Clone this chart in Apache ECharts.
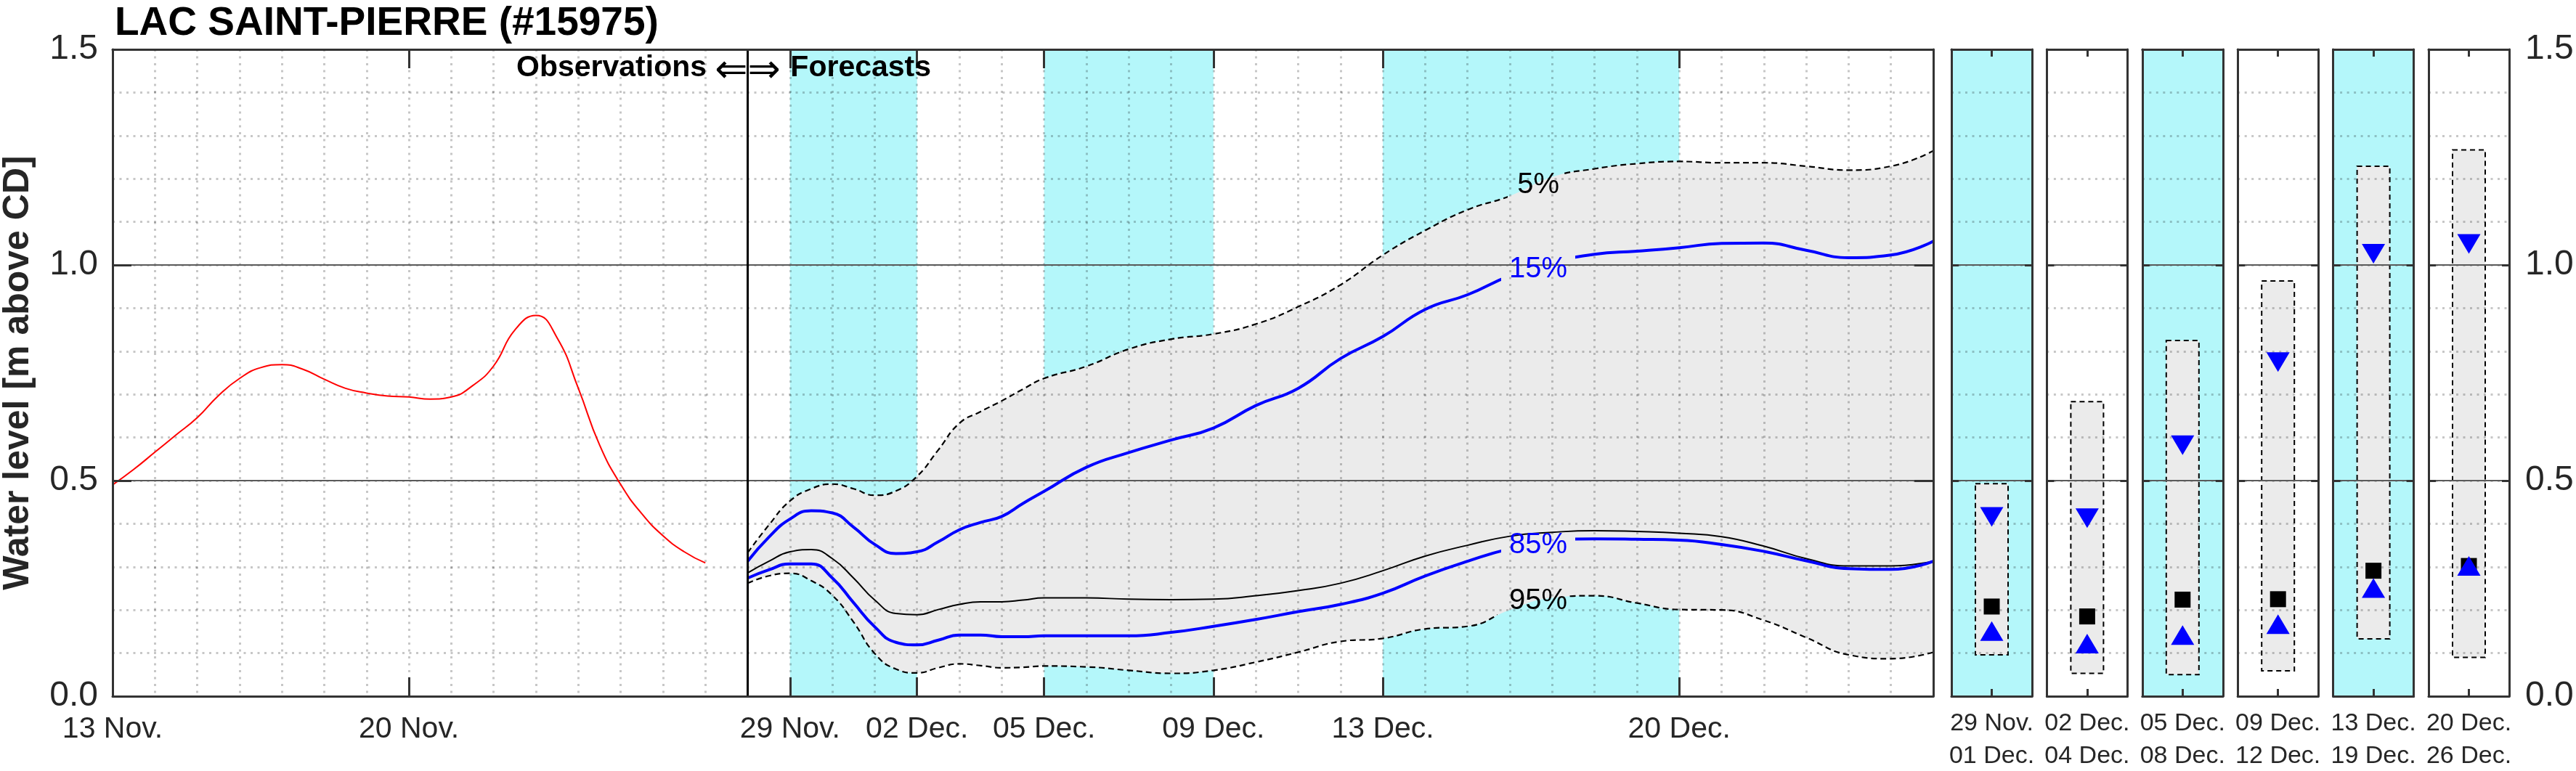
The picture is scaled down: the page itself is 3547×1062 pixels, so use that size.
<!DOCTYPE html>
<html><head><meta charset="utf-8">
<script src="https://cdn.jsdelivr.net/npm/echarts@6/dist/echarts.min.js"></script>
<style>html,body{margin:0;padding:0;background:#fff}#c{width:3547px;height:1062px}</style>
</head><body><div id="c"></div>
<script>
// ---------------- DATA ----------------
const titleText = 'LAC SAINT-PIERRE (#15975)';
const yName = 'Water level [m above CD]';
const dayMax = 43; // days after 13 Nov.
const tickDays = [0, 7, 16, 19, 22, 26, 30, 37];
const tickLabels = ['13 Nov.', '20 Nov.', '29 Nov.', '02 Dec.', '05 Dec.', '09 Dec.', '13 Dec.', '20 Dec.'];

const obsDays = [0,0.5,1,1.5,2,2.5,3,3.5,4,4.5,5,5.5,6,6.5,7,7.5,8,8.5,9,9.5,10,10.5,11,11.5,12,12.5,13,13.5,14];
const obsLevel = [0.490,0.526,0.566,0.606,0.646,0.697,0.737,0.762,0.769,0.758,0.735,0.714,0.703,0.696,0.694,0.689,0.694,0.720,0.766,0.849,0.883,0.831,0.714,0.583,0.491,0.423,0.372,0.335,0.309];

const fcDays = [15,15.5,16,16.5,17,17.5,18,18.5,19,19.5,20,20.5,21,21.5,22,23,24,25,26,27,28,29,30,31,32,33,34,35,36,37,38,39,40,41,42,43];
const p05 = [0.333,0.397,0.453,0.481,0.492,0.481,0.466,0.476,0.510,0.571,0.633,0.660,0.685,0.712,0.737,0.765,0.805,0.828,0.840,0.863,0.903,0.954,1.023,1.080,1.128,1.160,1.204,1.223,1.235,1.240,1.237,1.237,1.229,1.220,1.229,1.265];
const p15 = [0.313,0.369,0.411,0.430,0.425,0.392,0.352,0.331,0.335,0.358,0.386,0.403,0.417,0.447,0.475,0.531,0.565,0.594,0.622,0.674,0.714,0.783,0.834,0.897,0.931,0.975,1.005,1.025,1.032,1.040,1.050,1.051,1.034,1.017,1.023,1.055];
const p50 = [0.286,0.313,0.335,0.340,0.319,0.274,0.223,0.192,0.189,0.201,0.213,0.219,0.219,0.223,0.228,0.228,0.225,0.224,0.225,0.233,0.245,0.262,0.291,0.325,0.350,0.371,0.380,0.384,0.382,0.378,0.370,0.348,0.319,0.302,0.302,0.313];
const p85 = [0.274,0.293,0.307,0.307,0.274,0.217,0.161,0.125,0.119,0.130,0.142,0.142,0.138,0.138,0.140,0.140,0.140,0.148,0.162,0.178,0.196,0.213,0.239,0.279,0.313,0.342,0.360,0.365,0.364,0.362,0.352,0.336,0.314,0.296,0.294,0.313];
const p95 = [0.262,0.279,0.285,0.268,0.234,0.172,0.099,0.063,0.054,0.066,0.075,0.071,0.066,0.067,0.070,0.068,0.060,0.053,0.060,0.079,0.102,0.127,0.134,0.156,0.162,0.200,0.228,0.233,0.216,0.201,0.200,0.176,0.136,0.096,0.087,0.102];

const dividerDay = 15;
const bandStart = [16, 22, 30];
const bandEnd = [19, 26, 37];

const pctNames = ['5%', '15%', '85%', '95%'];
const pctLabelDay = [33.67, 33.67, 33.67, 33.67];
const pctLabelVal = [1.185, 0.990, 0.351, 0.221];
const pctGapStart = [32.95, 32.79, 32.79, 32.71];
const pctGapEnd = [34.25, 34.55, 34.55, 34.40];

const noteObs = 'Observations';
const noteArrow = '\u21D0\u21D2';
const noteFc = 'Forecasts';
const noteVal = 1.456;

const periodStart = ['29 Nov.', '02 Dec.', '05 Dec.', '09 Dec.', '13 Dec.', '20 Dec.'];
const periodEnd = ['01 Dec.', '04 Dec.', '08 Dec.', '12 Dec.', '19 Dec.', '26 Dec.'];
const periodShaded = [true, false, true, false, true, false];
const boxHigh = [0.493, 0.683, 0.825, 0.963, 1.229, 1.267];
const boxLow = [0.096, 0.053, 0.050, 0.059, 0.133, 0.090];
const period15 = [0.416, 0.413, 0.582, 0.775, 1.026, 1.049];
const period50 = [0.208, 0.185, 0.224, 0.225, 0.291, 0.302];
const period85 = [0.151, 0.122, 0.142, 0.167, 0.251, 0.302];

// ---------------- STYLE ----------------
const FONT = "'Liberation Sans', Arial, Helvetica, sans-serif";
const CYAN = '#b4f7fa';
const BANDGRAY = '#ebebeb';
const BLUE = '#0000ff';
const TXT = '#262626';
const DOT = {color: 'rgba(0,0,0,0.22)', width: 3, type: [3, 6.5]};
const FRAME = {color: '#333333', width: 3};
const SOLID = {color: '#5a5a5a', width: 2};

// same bezier smoothing rule as the line series (smooth = 0.5)
function smoothSegments(pts, smooth) {
  const segs = [];
  const n = pts.length;
  let cpx0 = pts[0][0], cpy0 = pts[0][1], prevX = pts[0][0], prevY = pts[0][1];
  for (let i = 1; i < n; i++) {
    const x = pts[i][0], y = pts[i][1];
    let cpx1, cpy1, nextCpx0 = x, nextCpy0 = y;
    if (i === n - 1) { cpx1 = x; cpy1 = y; }
    else {
      const nextX = pts[i + 1][0], nextY = pts[i + 1][1];
      let vx = nextX - prevX, vy = nextY - prevY;
      const lenPrev = Math.hypot(x - prevX, y - prevY), lenNext = Math.hypot(nextX - x, nextY - y);
      const ratio = lenNext / (lenNext + lenPrev);
      nextCpx0 = x + vx * smooth * ratio; nextCpy0 = y + vy * smooth * ratio;
      nextCpx0 = Math.max(Math.min(nextCpx0, Math.max(nextX, x)), Math.min(nextX, x));
      nextCpy0 = Math.max(Math.min(nextCpy0, Math.max(nextY, y)), Math.min(nextY, y));
      vx = nextCpx0 - x; vy = nextCpy0 - y;
      cpx1 = x - vx * lenPrev / lenNext; cpy1 = y - vy * lenPrev / lenNext;
      cpx1 = Math.max(Math.min(cpx1, Math.max(prevX, x)), Math.min(prevX, x));
      cpy1 = Math.max(Math.min(cpy1, Math.max(prevY, y)), Math.min(prevY, y));
      vx = x - cpx1; vy = y - cpy1;
      nextCpx0 = x + vx * lenNext / lenPrev; nextCpy0 = y + vy * lenNext / lenPrev;
    }
    segs.push([cpx0, cpy0, cpx1, cpy1, x, y]);
    cpx0 = nextCpx0; cpy0 = nextCpy0; prevX = x; prevY = y;
  }
  return segs;
}

const grids = [], xAxes = [], yAxes = [], series = [], visualMaps = [];

// ---------------- MAIN PANEL ----------------
grids.push({left: 155, top: 68, width: 2507, height: 891, show: false, containLabel: false, outerBoundsMode: 'none'});
xAxes.push({gridIndex: 0, type: 'value', min: 0, max: dayMax, interval: 1, position: 'bottom',
  axisLine: {show: false, onZero: false}, axisTick: {show: false}, axisLabel: {show: false},
  splitLine: {show: true, lineStyle: DOT}, z: 3});
xAxes.push({gridIndex: 0, type: 'value', min: 0, max: dayMax, position: 'bottom',
  axisLine: {show: true, onZero: false, lineStyle: FRAME},
  axisTick: {show: true, inside: true, length: 26, lineStyle: FRAME, customValues: tickDays},
  axisLabel: {show: true, customValues: tickDays, formatter: v => tickLabels[tickDays.indexOf(v)] || '',
    fontSize: 41, lineHeight: 41, fontFamily: FONT, color: TXT, margin: 25},
  splitLine: {show: false}, z: 7});
xAxes.push({gridIndex: 0, type: 'value', min: 0, max: dayMax, position: 'top',
  axisLine: {show: true, onZero: false, lineStyle: FRAME},
  axisTick: {show: true, inside: true, length: 26, lineStyle: FRAME, customValues: tickDays},
  axisLabel: {show: false}, splitLine: {show: false}, z: 7});

yAxes.push({gridIndex: 0, type: 'value', min: 0, max: 1.5, interval: 0.1, position: 'left',
  axisLine: {show: false, onZero: false}, axisTick: {show: false}, axisLabel: {show: false},
  splitLine: {show: true, lineStyle: DOT}, z: 3});
yAxes.push({gridIndex: 0, type: 'value', min: 0, max: 1.5, interval: 0.5, position: 'left',
  axisLine: {show: false, onZero: false}, axisTick: {show: false}, axisLabel: {show: false},
  splitLine: {show: true, lineStyle: SOLID}, z: 4});
yAxes.push({gridIndex: 0, type: 'value', min: 0, max: 1.5, interval: 0.5, position: 'left',
  axisLine: {show: true, onZero: false, lineStyle: FRAME},
  axisTick: {show: true, inside: true, length: 26, lineStyle: FRAME},
  axisLabel: {show: true, formatter: v => v.toFixed(1), fontSize: 48, fontFamily: FONT, color: TXT, margin: 20},
  splitLine: {show: false},
  name: yName, nameLocation: 'middle', nameRotate: 90, nameGap: 105,
  nameTextStyle: {fontSize: 50, lineHeight: 50, fontWeight: 'bold', fontFamily: FONT, color: TXT}, z: 7});
yAxes.push({gridIndex: 0, type: 'value', min: 0, max: 1.5, interval: 0.5, position: 'right',
  axisLine: {show: true, onZero: false, lineStyle: FRAME},
  axisTick: {show: true, inside: true, length: 26, lineStyle: FRAME},
  axisLabel: {show: false}, splitLine: {show: false}, z: 7});

// cyan day bands
series.push({type: 'custom', xAxisIndex: 0, yAxisIndex: 0, z: 1, silent: true,
  data: bandStart.map((s, i) => [s, bandEnd[i]]),
  renderItem: (params, api) => {
    const a = api.coord([api.value(0), 1.5]);
    const b = api.coord([api.value(1), 0]);
    return {type: 'rect', shape: {x: a[0], y: a[1], width: b[0] - a[0], height: b[1] - a[1]}, style: {fill: CYAN}};
  }});
// gray envelope between 5% and 95%
series.push({type: 'custom', xAxisIndex: 0, yAxisIndex: 0, z: 2, silent: true,
  data: [[fcDays[0]]],
  renderItem: (params, api) => {
    const up = fcDays.map((d, i) => api.coord([d, p05[i]]));
    const lo = fcDays.map((d, i) => api.coord([d, p95[i]]));
    const su = smoothSegments(up, 0.5), sl = smoothSegments(lo, 0.5);
    let d = 'M' + up[0][0] + ',' + up[0][1];
    su.forEach(s => { d += 'C' + s.join(','); });
    d += 'L' + lo[lo.length - 1][0] + ',' + lo[lo.length - 1][1];
    for (let j = sl.length - 1; j >= 0; j--) {
      const s = sl[j];
      d += 'C' + [s[2], s[3], s[0], s[1], lo[j][0], lo[j][1]].join(',');
    }
    d += 'Z';
    return {type: 'path', shape: {pathData: d}, style: {fill: BANDGRAY, stroke: null}};
  }});

// observations
series.push({type: 'line', xAxisIndex: 0, yAxisIndex: 0, z: 5, smooth: true, symbol: 'none',
  lineStyle: {color: '#ff0000', width: 2}, data: obsDays.map((d, i) => [d, obsLevel[i]])});
// median
series.push({type: 'line', xAxisIndex: 0, yAxisIndex: 0, z: 5, smooth: true, symbol: 'none',
  lineStyle: {color: '#000000', width: 2}, data: fcDays.map((d, i) => [d, p50[i]])});

// percentile lines with label gaps
const pctArrays = [p05, p15, p85, p95];
const pctColors = ['#000000', BLUE, BLUE, '#000000'];
const pctWidths = [2.2, 4, 4, 2.2];
const pctTypes = [[8, 5], 'solid', 'solid', [8, 5]];
pctArrays.forEach((arr, k) => {
  const idx = series.length;
  series.push({type: 'line', xAxisIndex: 0, yAxisIndex: 0, z: 5, smooth: true, symbol: 'none',
    color: pctColors[k],
    lineStyle: {width: pctWidths[k], type: pctTypes[k]},
    data: fcDays.map((d, i) => [d, arr[i]])});
  visualMaps.push({type: 'piecewise', show: false, seriesIndex: idx, dimension: 0,
    pieces: [{lt: pctGapStart[k], color: pctColors[k]},
             {gte: pctGapStart[k], lte: pctGapEnd[k], color: 'rgba(255,255,255,0)'},
             {gt: pctGapEnd[k], color: pctColors[k]}]});
});
// percentile labels
series.push({type: 'scatter', xAxisIndex: 0, yAxisIndex: 0, z: 6, silent: true, symbolSize: 1,
  itemStyle: {color: 'rgba(0,0,0,0)', opacity: 1},
  data: pctNames.map((n, k) => ({value: [pctLabelDay[k], pctLabelVal[k]], name: n,
    label: {show: true, position: 'inside', formatter: n, color: pctColors[k], fontSize: 40, fontFamily: FONT}}))});

// divider
series.push({type: 'custom', xAxisIndex: 0, yAxisIndex: 0, z: 6, silent: true, data: [[dividerDay]],
  renderItem: (params, api) => {
    const a = api.coord([api.value(0), 1.5]);
    const b = api.coord([api.value(0), 0]);
    return {type: 'line', shape: {x1: a[0], y1: a[1], x2: b[0], y2: b[1]}, style: {stroke: '#000', lineWidth: 3}};
  }});
// Observations <=> Forecasts note
series.push({type: 'scatter', xAxisIndex: 0, yAxisIndex: 0, z: 8, silent: true, symbolSize: 1,
  itemStyle: {color: 'rgba(0,0,0,0)', opacity: 1},
  data: [
    {value: [dividerDay, noteVal], label: {show: true, position: 'left', distance: 56, formatter: noteObs,
      fontSize: 41, fontWeight: 'bold', fontFamily: FONT, color: '#000'}},
    {value: [dividerDay, noteVal - 0.008], label: {show: true, position: 'inside', formatter: noteArrow,
      fontSize: 54, fontFamily: "'DejaVu Sans', sans-serif", color: '#000'}},
    {value: [tickDays[2], noteVal], label: {show: true, position: 'right', distance: 0, formatter: noteFc,
      fontSize: 41, fontWeight: 'bold', fontFamily: FONT, color: '#000'}}
  ]});

// ---------------- SMALL PANELS ----------------
const SM_LEFT0 = 2687, SM_STEP = 131.4, SM_W = 111;
periodStart.forEach((ps, k) => {
  const g = grids.length;
  grids.push({left: SM_LEFT0 + k * SM_STEP, top: 68, width: SM_W, height: 891, containLabel: false, outerBoundsMode: 'none',
    show: periodShaded[k], backgroundColor: periodShaded[k] ? CYAN : 'transparent', borderWidth: 0});
  const cat = [ps + '\n' + periodEnd[k]];
  const xb = xAxes.length;
  xAxes.push({gridIndex: g, type: 'category', data: cat, position: 'bottom', boundaryGap: true,
    axisLine: {show: true, onZero: false, lineStyle: FRAME},
    axisTick: {show: true, inside: true, length: 10, alignWithLabel: true, lineStyle: FRAME},
    axisLabel: {show: true, fontSize: 34, lineHeight: 45, fontFamily: FONT, color: TXT, margin: 15},
    splitLine: {show: false}, z: 7});
  xAxes.push({gridIndex: g, type: 'category', data: cat, position: 'top', boundaryGap: true,
    axisLine: {show: true, onZero: false, lineStyle: FRAME},
    axisTick: {show: true, inside: true, length: 10, alignWithLabel: true, lineStyle: FRAME},
    axisLabel: {show: false}, splitLine: {show: false}, z: 7});
  const yd = yAxes.length;
  yAxes.push({gridIndex: g, type: 'value', min: 0, max: 1.5, interval: 0.1, position: 'left',
    axisLine: {show: false, onZero: false}, axisTick: {show: false}, axisLabel: {show: false},
    splitLine: {show: true, lineStyle: DOT}, z: 3});
  yAxes.push({gridIndex: g, type: 'value', min: 0, max: 1.5, interval: 0.5, position: 'left',
    axisLine: {show: false, onZero: false}, axisTick: {show: false}, axisLabel: {show: false},
    splitLine: {show: true, lineStyle: SOLID}, z: 4});
  yAxes.push({gridIndex: g, type: 'value', min: 0, max: 1.5, interval: 0.5, position: 'left',
    axisLine: {show: true, onZero: false, lineStyle: FRAME},
    axisTick: {show: true, inside: true, length: 10, lineStyle: FRAME},
    axisLabel: {show: false}, splitLine: {show: false}, z: 7});
  const last = k === periodStart.length - 1;
  yAxes.push({gridIndex: g, type: 'value', min: 0, max: 1.5, interval: 0.5, position: 'right',
    axisLine: {show: true, onZero: false, lineStyle: FRAME},
    axisTick: {show: true, inside: true, length: 10, lineStyle: FRAME},
    axisLabel: {show: last, formatter: v => v.toFixed(1), fontSize: 48, fontFamily: FONT, color: TXT, margin: 22},
    splitLine: {show: false}, z: 7});

  series.push({type: 'custom', xAxisIndex: xb, yAxisIndex: yd, z: 2, silent: true,
    data: [[0, boxLow[k], boxHigh[k]]],
    renderItem: (params, api) => {
      const top = api.coord([api.value(0), api.value(2)]);
      const bot = api.coord([api.value(0), api.value(1)]);
      return {type: 'rect', shape: {x: top[0] - 22.5, y: top[1], width: 45, height: bot[1] - top[1]},
        style: {fill: BANDGRAY, stroke: '#000', lineWidth: 2, lineDash: [7, 5]}};
    }});
  series.push({type: 'scatter', xAxisIndex: xb, yAxisIndex: yd, z: 5, silent: true,
    symbol: 'rect', symbolSize: 22, itemStyle: {color: '#000', opacity: 1}, data: [[0, period50[k]]]});
  series.push({type: 'scatter', xAxisIndex: xb, yAxisIndex: yd, z: 6, silent: true,
    symbol: 'triangle', symbolSize: [32, 27], itemStyle: {color: BLUE, opacity: 1}, data: [[0, period85[k]]]});
  series.push({type: 'scatter', xAxisIndex: xb, yAxisIndex: yd, z: 6, silent: true,
    symbol: 'triangle', symbolRotate: 180, symbolSize: [32, 27], itemStyle: {color: BLUE, opacity: 1}, data: [[0, period15[k]]]});
});

const chart = echarts.init(document.getElementById('c'), null, {renderer: 'canvas'});
chart.setOption({
  animation: false,
  backgroundColor: '#ffffff',
  title: {text: titleText, left: 153, top: 0, textStyle: {fontSize: 55, lineHeight: 55, fontWeight: 'bold', fontFamily: FONT, color: '#000'}},
  grid: grids, xAxis: xAxes, yAxis: yAxes, visualMap: visualMaps, series: series
});
</script>
</body></html>
